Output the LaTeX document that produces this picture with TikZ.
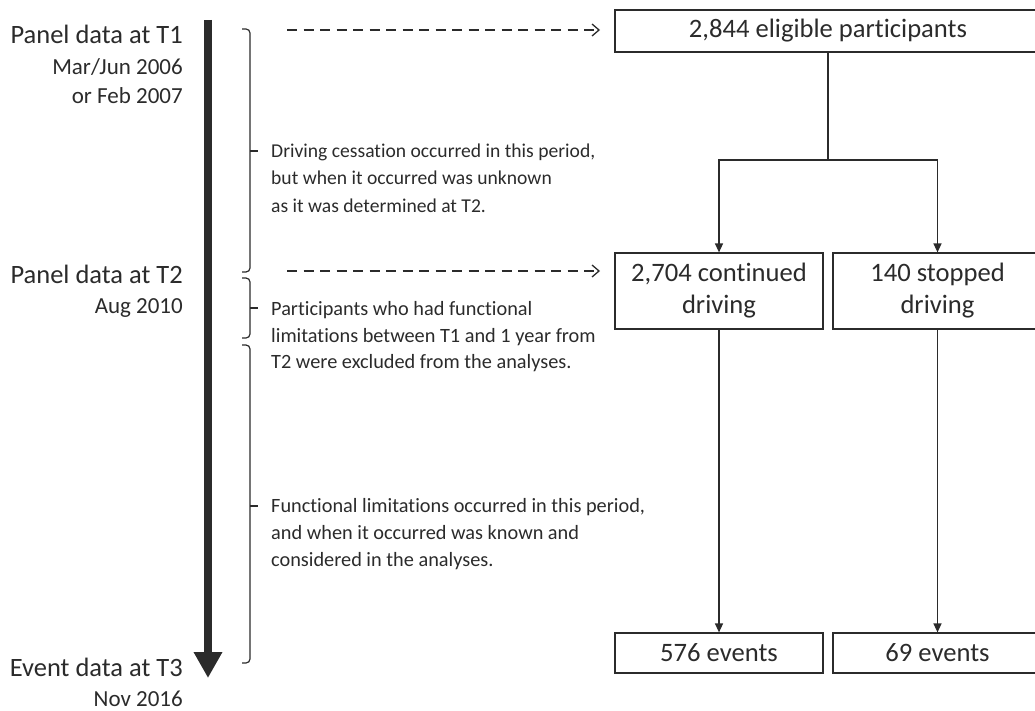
\documentclass[tikz,border=0pt]{standalone}
\usepackage{fontspec}
\setmainfont[Ligatures={NoCommon}]{Carlito}
\usetikzlibrary{arrows.meta}
\definecolor{ink}{HTML}{2B2B2B}
\begin{document}
\begin{tikzpicture}[x=1pt,y=-1pt,
  every node/.style={text=ink, inner sep=0pt},
  lbl/.style={font=\fontsize{26.5}{30}\selectfont, anchor=base east},
  sublbl/.style={font=\fontsize{23}{27}\selectfont, anchor=base east},
  note/.style={font=\fontsize{20.3}{27.5}\selectfont, anchor=base west},
  box/.style={draw=ink, line width=1.2pt, font=\fontsize{26.6}{32}\selectfont, align=center},
  brk/.style={draw=ink, line width=1.2pt, rounded corners=4pt},
  tick/.style={draw=ink, line width=1.2pt},
  dasharrow/.style={draw=ink, line width=1.3pt, dash pattern=on 10pt off 6.5pt, -{Straight Barb[length=7pt,width=12pt,line width=1.3pt]}},
  conn/.style={draw=ink, line width=1.4pt},
  connarrow/.style={conn, -{Triangle[length=9pt,width=8pt]}},
]
\useasboundingbox (0,0) rectangle (1035,711);
\clip (0,0) rectangle (1035,711);

% time line
\coordinate (tl0) at (208,20);
\coordinate (tl1) at (208,678);
\draw[ink, line width=8.5pt, -{Triangle[length=26pt,width=27pt]}] (tl0) -- (tl1);

% left labels
\node[lbl] (t1) at (183,44) {Panel data at T1};
\node[sublbl] (t1a) at (183,75) {Mar/Jun 2006};
\node[sublbl] (t1b) at (183,104) {or Feb 2007};
\node[lbl] (t2) at (183,283) {Panel data at T2};
\node[sublbl] (t2a) at (183,313) {Aug 2010};
\node[lbl] (t3) at (183,676) {Event data at T3};
\node[sublbl] (t3a) at (183,706) {Nov 2016};

% brackets
\draw[brk] (242,29) -- (250,29) -- (250,272) -- (242,272);
\draw[tick] (250,151) -- (258,151);
\draw[brk] (242,278) -- (250,278) -- (250,338) -- (242,338);
\draw[tick] (250,308) -- (258,308);
\draw[brk] (242,345) -- (250,345) -- (250,663) -- (242,663);
\draw[tick] (250,506) -- (258,506);

% notes
\node[note, font=\fontsize{19.6}{27.5}\selectfont] (n1a) at (271,157.5) {Driving cessation occurred in this period,};
\node[note, font=\fontsize{19.6}{27.5}\selectfont] (n1b) at (271,185) {but when it occurred was unknown};
\node[note, font=\fontsize{19.6}{27.5}\selectfont] (n1c) at (271,212.5) {as it was determined at T2.};
\node[note] (n2a) at (271,315) {Participants who had functional};
\node[note] (n2b) at (271,342) {limitations between T1 and 1 year from};
\node[note] (n2c) at (271,368) {T2 were excluded from the analyses.};
\node[note] (n3a) at (271,512) {Functional limitations occurred in this period,};
\node[note] (n3b) at (271,539) {and when it occurred was known and};
\node[note] (n3c) at (271,566) {considered in the analyses.};

% boxes
\node[box, minimum width=426pt, minimum height=42pt] (A) at (828,31) {2,844 eligible participants};
\node[box, minimum width=208pt, minimum height=76pt] (B) at (719,291) {2,704 continued\\driving};
\node[box, minimum width=209pt, minimum height=76pt] (C) at (937.5,291) {140 stopped\\driving};
\node[box, minimum width=208pt, minimum height=40pt] (D) at (719,653) {576 events};
\node[box, minimum width=209pt, minimum height=40pt] (E) at (937.5,653) {69 events};

% dashed arrows
\coordinate (d1s) at (287,30);
\coordinate (d1e) at (600,30);
\coordinate (d2s) at (287,271);
\coordinate (d2e) at (600,271);
\draw[dasharrow] (d1s) -- (d1e);
\draw[dasharrow] (d2s) -- (d2e);

% flow connectors
\coordinate (split) at (828,160);
\draw[conn] (A.south) -- (split);
\draw[connarrow] (split) -| (B.north);
\draw[connarrow] (split) -| (C.north);
\draw[connarrow] (B.south) -- (D.north);
\draw[connarrow] (C.south) -- (E.north);
\end{tikzpicture}
\end{document}
